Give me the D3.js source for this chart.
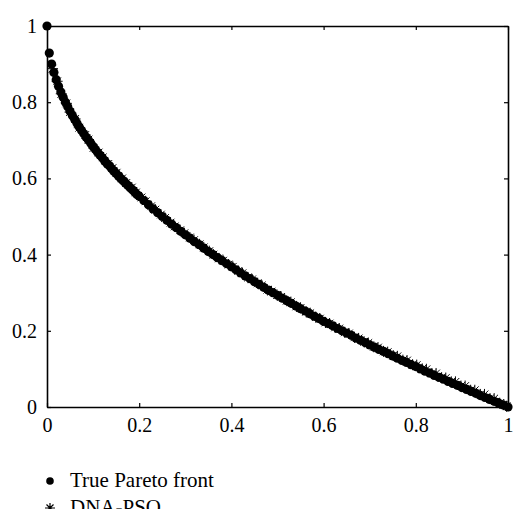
<!DOCTYPE html>
<html>
<head>
<meta charset="utf-8">
<script src="https://cdn.jsdelivr.net/npm/d3@7"></script>
<style>
  body { margin: 0; background: #fff; }
  svg { display: block; }
</style>
</head>
<body>
<div id="chart"></div>
<script>
// True Pareto front
var trueX = [0, 0.005, 0.01, 0.015, 0.02, 0.025, 0.03, 0.035, 0.04, 0.045, 0.05, 0.055, 0.06, 0.065, 0.07, 0.075, 0.08, 0.085, 0.09, 0.095,
  0.1, 0.105, 0.11, 0.115, 0.12, 0.125, 0.13, 0.135, 0.14, 0.145, 0.15, 0.155, 0.16, 0.165, 0.17, 0.175, 0.18, 0.185, 0.19, 0.195,
  0.2, 0.21, 0.22, 0.23, 0.24, 0.25, 0.26, 0.27, 0.28, 0.29, 0.3, 0.31, 0.32, 0.33, 0.34, 0.35, 0.36, 0.37, 0.38, 0.39,
  0.4, 0.41, 0.42, 0.43, 0.44, 0.45, 0.46, 0.47, 0.48, 0.49, 0.5, 0.51, 0.52, 0.53, 0.54, 0.55, 0.56, 0.57, 0.58, 0.59,
  0.6, 0.61, 0.62, 0.63, 0.64, 0.65, 0.66, 0.67, 0.68, 0.69, 0.7, 0.71, 0.72, 0.73, 0.74, 0.75, 0.76, 0.77, 0.78, 0.79,
  0.8, 0.81, 0.82, 0.83, 0.84, 0.85, 0.86, 0.87, 0.88, 0.89, 0.9, 0.91, 0.92, 0.93, 0.94, 0.95, 0.96, 0.97, 0.98, 0.99, 1];
var trueY = [1, 0.929, 0.9, 0.878, 0.859, 0.842, 0.827, 0.813, 0.8, 0.788, 0.776, 0.765, 0.755, 0.745, 0.735, 0.726, 0.717, 0.708, 0.7, 0.692,
  0.684, 0.676, 0.668, 0.661, 0.654, 0.646, 0.639, 0.633, 0.626, 0.619, 0.613, 0.606, 0.6, 0.594, 0.588, 0.582, 0.576, 0.57, 0.564, 0.558,
  0.553, 0.542, 0.531, 0.52, 0.51, 0.5, 0.49, 0.48, 0.471, 0.461, 0.452, 0.443, 0.434, 0.426, 0.417, 0.408, 0.4, 0.392, 0.384, 0.376,
  0.368, 0.36, 0.352, 0.344, 0.337, 0.329, 0.322, 0.314, 0.307, 0.3, 0.293, 0.286, 0.279, 0.272, 0.265, 0.258, 0.252, 0.245, 0.238, 0.232,
  0.225, 0.219, 0.213, 0.206, 0.2, 0.194, 0.188, 0.181, 0.175, 0.169, 0.163, 0.157, 0.151, 0.146, 0.14, 0.134, 0.128, 0.122, 0.117, 0.111,
  0.106, 0.1, 0.094, 0.089, 0.083, 0.078, 0.073, 0.067, 0.062, 0.057, 0.051, 0.046, 0.041, 0.036, 0.03, 0.025, 0.02, 0.015, 0.01, 0.005, 0];

// DNA-PSO solutions (mostly hidden under the dots, tips stick out)
var psoX = [0.012, 0.022, 0.031, 0.042, 0.05, 0.061, 0.07, 0.083, 0.09, 0.101, 0.112, 0.121, 0.133, 0.142, 0.151, 0.163, 0.172, 0.184, 0.193,
  0.205, 0.214, 0.226, 0.235, 0.247, 0.256, 0.268, 0.277, 0.289, 0.298, 0.31, 0.319, 0.331, 0.34, 0.352, 0.361, 0.373, 0.382, 0.394, 0.403,
  0.415, 0.424, 0.436, 0.445, 0.457, 0.466, 0.478, 0.487, 0.499, 0.508, 0.52, 0.529, 0.541, 0.55, 0.562, 0.571, 0.583, 0.592, 0.604, 0.613,
  0.625, 0.634, 0.646, 0.655, 0.667, 0.676, 0.688, 0.697, 0.709, 0.718, 0.73, 0.739, 0.751, 0.76, 0.772, 0.781, 0.793, 0.802, 0.814, 0.823,
  0.835, 0.844, 0.856, 0.865, 0.877, 0.886, 0.898, 0.907, 0.919, 0.928, 0.94, 0.949, 0.961, 0.97, 0.982, 0.991, 0.997];
var psoY = [0.888, 0.855, 0.822, 0.797, 0.774, 0.756, 0.733, 0.714, 0.702, 0.68, 0.668, 0.655, 0.638, 0.627, 0.615, 0.6, 0.588, 0.576, 0.563,
  0.55, 0.54, 0.527, 0.518, 0.505, 0.496, 0.484, 0.474, 0.464, 0.456, 0.445, 0.438, 0.427, 0.419, 0.409, 0.4, 0.39, 0.384, 0.374, 0.368,
  0.357, 0.351, 0.34, 0.335, 0.325, 0.319, 0.308, 0.303, 0.294, 0.289, 0.279, 0.275, 0.264, 0.26, 0.25, 0.246, 0.236, 0.232, 0.222, 0.219,
  0.209, 0.206, 0.196, 0.193, 0.183, 0.18, 0.171, 0.168, 0.158, 0.156, 0.146, 0.144, 0.135, 0.133, 0.123, 0.122, 0.111, 0.11, 0.1, 0.099,
  0.088, 0.088, 0.077, 0.076, 0.066, 0.066, 0.055, 0.055, 0.044, 0.044, 0.033, 0.033, 0.022, 0.022, 0.01, 0.006, 0.002];

var xTicks = [0, 0.2, 0.4, 0.6, 0.8, 1];
var yTicks = [0, 0.2, 0.4, 0.6, 0.8, 1];
var legendNames = ["True Pareto front", "DNA-PSO"];

var serif = "'Liberation Serif', 'DejaVu Serif', serif";
var width = 521, height = 509;
var margin = {top: 26, right: 13, bottom: 102, left: 47};

var svg = d3.select("#chart").append("svg")
    .attr("width", width)
    .attr("height", height);

var x = d3.scaleLinear().domain([0, 1]).range([margin.left, width - margin.right]);
var y = d3.scaleLinear().domain([0, 1]).range([height - margin.bottom, margin.top]);

var fmt = function(d) { return d === 0 || d === 1 ? String(d) : d3.format(".1f")(d); };

// axes, ticks pointing inward on all four sides
svg.append("g")
    .attr("transform", "translate(0," + y(0) + ")")
    .call(d3.axisBottom(x).tickValues(xTicks).tickFormat(fmt).tickSizeInner(-4).tickSizeOuter(0).tickPadding(11));
svg.append("g")
    .attr("transform", "translate(" + x(0) + ",0)")
    .call(d3.axisLeft(y).tickValues(yTicks).tickFormat(fmt).tickSizeInner(-4).tickSizeOuter(0).tickPadding(10));
svg.append("g")
    .attr("transform", "translate(0," + y(1) + ")")
    .call(d3.axisTop(x).tickValues(xTicks).tickFormat("").tickSizeInner(-4).tickSizeOuter(0));
svg.append("g")
    .attr("transform", "translate(" + x(1) + ",0)")
    .call(d3.axisRight(y).tickValues(yTicks).tickFormat("").tickSizeInner(-4).tickSizeOuter(0));

svg.selectAll("g").attr("font-family", null);
svg.selectAll(".domain").attr("stroke", "#000").attr("stroke-width", 1.6);
svg.selectAll(".tick line").attr("stroke", "#000").attr("stroke-width", 1.2);
svg.selectAll(".tick text")
    .style("font-family", serif)
    .style("font-size", "20px")
    .attr("fill", "#000");

// asterisk marker
function star(s) {
  var d = s * 0.7;
  return "M" + (-s) + ",0L" + s + ",0M0," + (-s) + "L0," + s +
         "M" + (-d) + "," + (-d) + "L" + d + "," + d + "M" + (-d) + "," + d + "L" + d + "," + (-d);
}

var psoData = psoX.map(function(v, i) { return [v, psoY[i]]; });
svg.append("g").selectAll("path")
    .data(psoData)
  .enter().append("path")
    .attr("transform", function(d) { return "translate(" + x(d[0]) + "," + y(d[1]) + ")"; })
    .attr("d", star(5.5))
    .attr("stroke", "#000")
    .attr("stroke-width", 1)
    .attr("fill", "none");

var trueData = trueX.map(function(v, i) { return [v, trueY[i]]; });
svg.append("g").selectAll("circle")
    .data(trueData)
  .enter().append("circle")
    .attr("cx", function(d) { return x(d[0]); })
    .attr("cy", function(d) { return y(d[1]); })
    .attr("r", 4.6)
    .attr("fill", "#000");

// legend
var lg = svg.append("g");
lg.append("circle").attr("cx", 50).attr("cy", 481).attr("r", 3.8).attr("fill", "#000");
lg.append("path").attr("transform", "translate(50,508)").attr("d", star(5))
    .attr("stroke", "#000").attr("stroke-width", 1.2).attr("fill", "none");
lg.selectAll("text")
    .data(legendNames)
  .enter().append("text")
    .attr("x", 70)
    .attr("y", function(d, i) { return 487 + i * 27; })
    .style("font-family", serif)
    .style("font-size", "21px")
    .attr("fill", "#000")
    .text(function(d) { return d; });
</script>
</body>
</html>
